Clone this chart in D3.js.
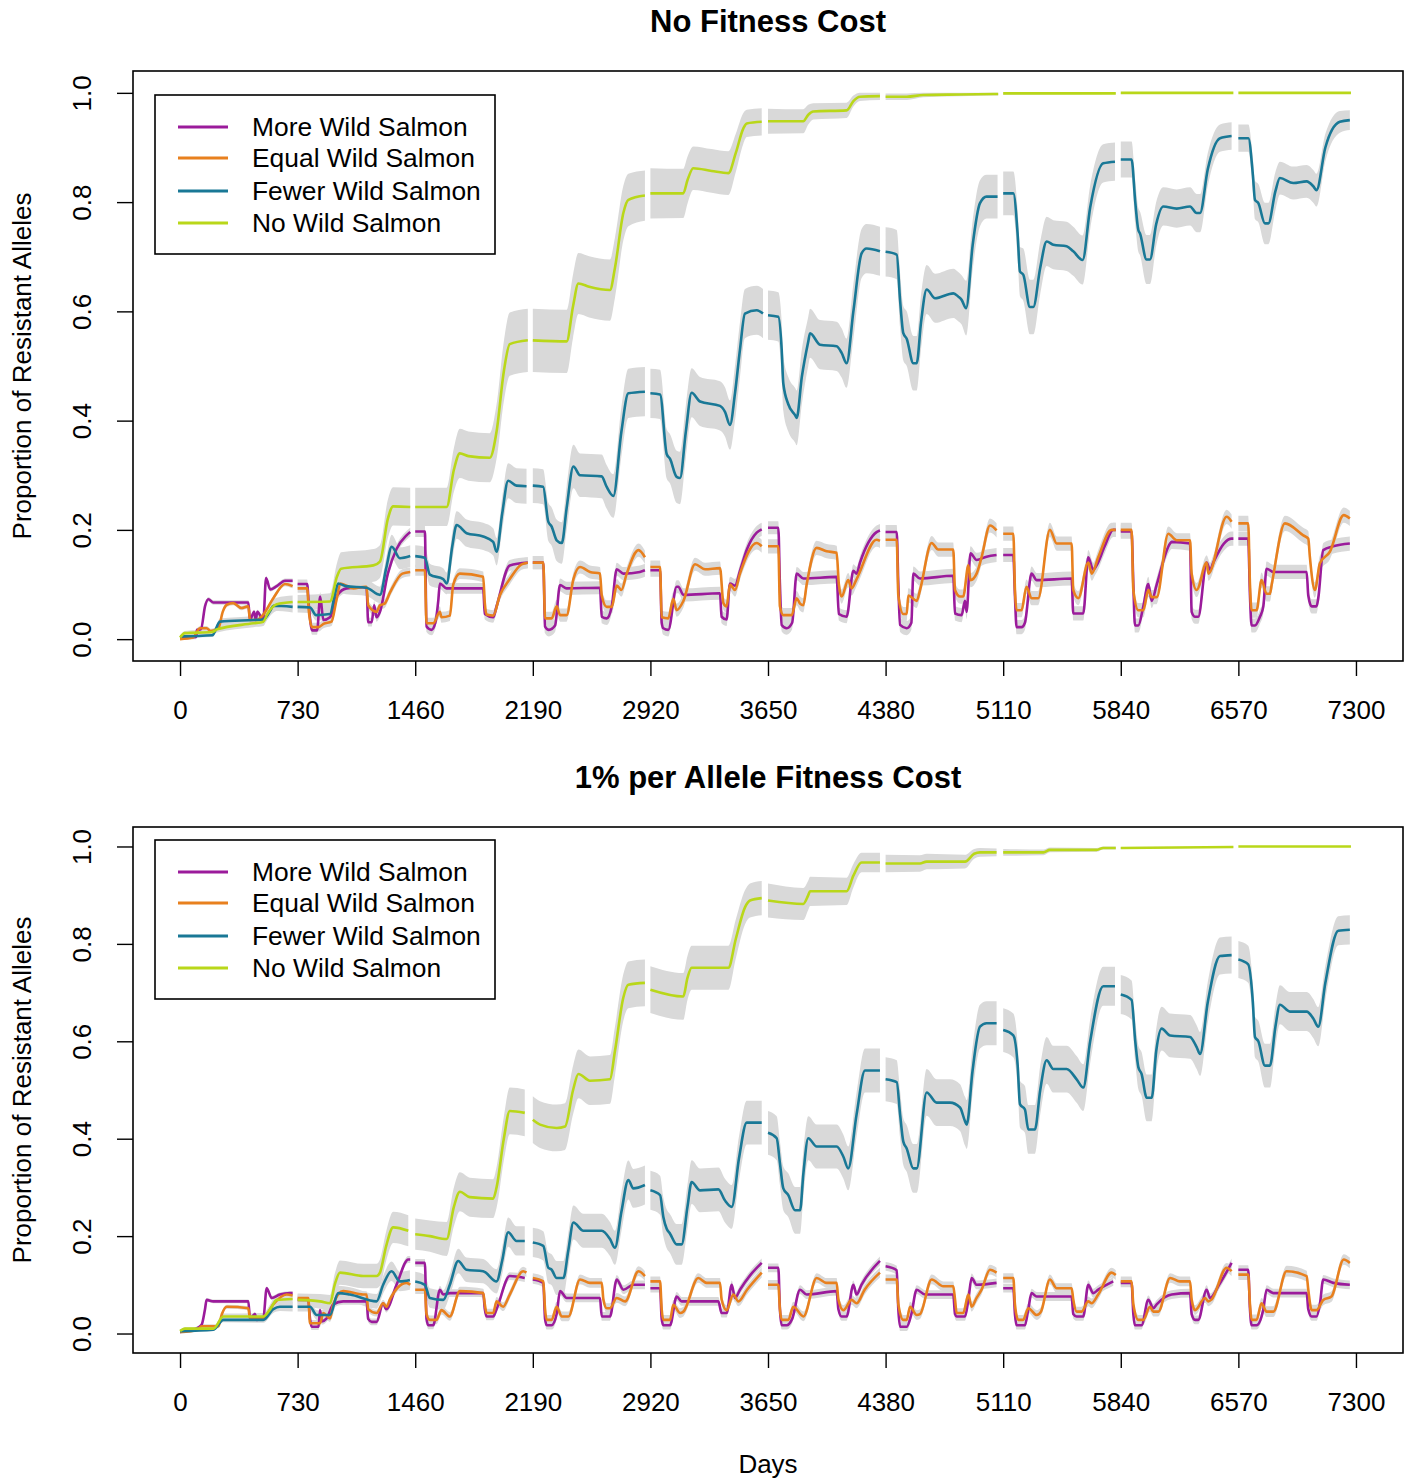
<!DOCTYPE html>
<html><head><meta charset="utf-8">
<script src="https://cdn.jsdelivr.net/npm/d3@7"></script>
<style>
body{margin:0;background:#fff}
svg{display:block}
text{font-family:"Liberation Sans",Arial,Helvetica,sans-serif;fill:#000}
</style>
</head><body>
<svg id="chart" width="1411" height="1479"></svg>
<script>
// ---------- categories, ticks, labels ----------
const seriesNames = ["More Wild Salmon","Equal Wild Salmon","Fewer Wild Salmon","No Wild Salmon"];
const seriesColors = ["#9B1B9B","#E8801E","#197896","#B9D719"];
const panelTitles = ["No Fitness Cost","1% per Allele Fitness Cost"];
const xTicks = [0,730,1460,2190,2920,3650,4380,5110,5840,6570,7300];
const yTicks = [0,0.2,0.4,0.6,0.8,1.0];
const xLabel = "Days";
const yLabel = "Proportion of Resistant Alleles";

// ---------- TOP panel: No Fitness Cost  [day, mean, ribbon half-width] ----------
const topNo = [
 [0,0.003,0.002],[30,0.011,0.004],[200,0.013,0.005],[230,0.018,0.006],[455,0.029,0.007],[517,0.032,0.008],[540,0.045,0.01],[600,0.064,0.012],[699,0.068,0.012],
 [730,0.068,0.013],[931,0.069,0.015],[975,0.115,0.025],[1000,0.129,0.03],[1200,0.135,0.03],[1241,0.142,0.03],[1290,0.22,0.035],[1323,0.243,0.035],[1429,0.242,0.035],
 [1460,0.242,0.035],[1655,0.242,0.035],[1700,0.31,0.04],[1737,0.34,0.045],[1790,0.335,0.045],[1923,0.332,0.045],[1965,0.38,0.05],[2010,0.49,0.055],[2047,0.54,0.058],[2159,0.547,0.058],
 [2190,0.547,0.058],[2400,0.545,0.058],[2440,0.61,0.058],[2473,0.651,0.056],[2540,0.645,0.056],[2669,0.639,0.056],[2700,0.68,0.055],[2752,0.78,0.05],[2783,0.804,0.048],[2886,0.812,0.046],
 [2920,0.816,0.046],[3124,0.816,0.045],[3150,0.84,0.043],[3186,0.862,0.04],[3300,0.857,0.04],[3404,0.853,0.04],[3450,0.89,0.035],[3497,0.935,0.028],[3518,0.944,0.025],[3611,0.947,0.025],
 [3650,0.948,0.023],[3869,0.948,0.022],[3900,0.96,0.018],[3931,0.966,0.015],[4138,0.968,0.014],[4180,0.985,0.01],[4221,0.993,0.008],[4345,0.994,0.007],
 [4380,0.993,0.006],[4511,0.993,0.006],[4614,0.996,0.004],[4842,0.997,0.003],[5079,0.998,0.003],
 [5110,0.999,0.002],[5809,0.999,0.001],
 [5840,1.0,0.001],[6539,1.0,0],
 [6570,1.0,0],[7269,1.0,0]
];
const topFewer = [
 [0,0.005,0.002],[200,0.007,0.003],[248,0.032,0.006],[455,0.035,0.007],[517,0.036,0.008],[560,0.052,0.008],[579,0.061,0.009],[699,0.059,0.01],
 [730,0.059,0.01],[807,0.058,0.01],[845,0.044,0.01],[931,0.046,0.01],[960,0.08,0.012],[982,0.102,0.015],[1030,0.097,0.015],[1158,0.094,0.015],[1241,0.081,0.015],[1280,0.13,0.02],[1314,0.169,0.022],[1365,0.148,0.02],[1429,0.152,0.02],
 [1460,0.152,0.02],[1520,0.149,0.02],[1551,0.118,0.02],[1634,0.11,0.02],[1655,0.102,0.02],[1690,0.17,0.025],[1717,0.209,0.025],[1779,0.194,0.025],[1882,0.188,0.025],[1944,0.178,0.025],[1965,0.16,0.025],[2000,0.23,0.03],[2037,0.29,0.032],[2089,0.281,0.032],[2151,0.28,0.032],
 [2190,0.281,0.032],[2254,0.279,0.032],[2286,0.215,0.035],[2307,0.206,0.035],[2338,0.181,0.038],[2370,0.176,0.038],[2400,0.24,0.04],[2442,0.316,0.04],[2483,0.30,0.04],[2617,0.298,0.04],[2648,0.279,0.04],[2690,0.262,0.04],[2740,0.38,0.045],[2783,0.45,0.045],[2886,0.453,0.045],
 [2920,0.45,0.045],[2980,0.448,0.045],[3021,0.339,0.045],[3042,0.33,0.045],[3083,0.297,0.048],[3104,0.295,0.048],[3140,0.38,0.048],[3176,0.451,0.045],[3228,0.435,0.045],[3352,0.427,0.045],[3383,0.416,0.045],[3414,0.392,0.045],[3445,0.45,0.05],[3476,0.53,0.05],[3507,0.596,0.045],[3580,0.602,0.045],[3619,0.596,0.045],
 [3650,0.593,0.045],[3714,0.59,0.045],[3735,0.53,0.05],[3745,0.468,0.05],[3776,0.43,0.05],[3818,0.41,0.05],[3828,0.405,0.05],[3860,0.48,0.05],[3900,0.545,0.045],[3911,0.56,0.045],[3973,0.539,0.045],[4076,0.536,0.045],[4107,0.524,0.045],[4138,0.505,0.045],[4180,0.6,0.05],[4231,0.706,0.045],[4262,0.715,0.045],[4345,0.71,0.045],
 [4380,0.709,0.045],[4449,0.704,0.045],[4470,0.62,0.05],[4490,0.56,0.05],[4511,0.55,0.05],[4552,0.505,0.05],[4573,0.505,0.05],[4600,0.58,0.05],[4635,0.64,0.045],[4687,0.624,0.045],[4801,0.633,0.045],[4831,0.627,0.045],[4852,0.621,0.045],[4880,0.606,0.05],[4920,0.72,0.045],[4966,0.798,0.042],[5007,0.81,0.04],[5075,0.81,0.04],
 [5110,0.816,0.04],[5173,0.816,0.04],[5200,0.74,0.045],[5214,0.673,0.045],[5235,0.667,0.048],[5276,0.608,0.05],[5297,0.608,0.05],[5340,0.68,0.048],[5380,0.728,0.045],[5421,0.722,0.045],[5504,0.719,0.045],[5545,0.71,0.045],[5603,0.694,0.045],[5650,0.79,0.04],[5731,0.871,0.035],[5804,0.874,0.035],
 [5840,0.878,0.033],[5907,0.878,0.033],[5930,0.8,0.04],[5949,0.749,0.04],[5959,0.743,0.04],[6000,0.695,0.045],[6021,0.695,0.045],[6060,0.76,0.04],[6104,0.792,0.035],[6187,0.788,0.035],[6270,0.792,0.035],[6311,0.78,0.035],[6332,0.78,0.035],[6380,0.86,0.03],[6456,0.917,0.025],[6528,0.921,0.025],
 [6570,0.917,0.025],[6632,0.917,0.025],[6660,0.85,0.03],[6673,0.804,0.035],[6694,0.798,0.035],[6735,0.761,0.038],[6756,0.761,0.038],[6800,0.82,0.035],[6828,0.844,0.03],[6911,0.835,0.03],[6994,0.838,0.03],[7035,0.829,0.03],[7055,0.822,0.03],[7110,0.9,0.025],[7200,0.947,0.02],[7262,0.95,0.018]
];
// [day, mean]
const topMore = [
 [0,0.002],[100,0.004],[105,0.017],[130,0.018],[155,0.06],[176,0.073],[207,0.067],[424,0.067],[434,0.035],[460,0.05],[470,0.035],[480,0.05],[517,0.035],[534,0.112],[560,0.091],[600,0.097],[652,0.107],[699,0.107],
 [730,0.101],[789,0.101],[800,0.06],[820,0.016],[851,0.016],[870,0.078],[890,0.035],[931,0.04],[975,0.08],[1034,0.093],[1137,0.095],[1158,0.094],[1168,0.031],[1190,0.031],[1205,0.062],[1220,0.04],[1241,0.05],[1290,0.12],[1344,0.165],[1406,0.19],[1429,0.196],
 [1460,0.197],[1520,0.197],[1530,0.023],[1561,0.017],[1585,0.03],[1603,0.07],[1613,0.102],[1654,0.093],[1882,0.093],[1892,0.046],[1944,0.04],[1965,0.06],[2047,0.135],[2159,0.14],
 [2190,0.14],[2255,0.14],[2266,0.023],[2290,0.017],[2328,0.025],[2359,0.099],[2400,0.093],[2607,0.094],[2618,0.041],[2649,0.038],[2680,0.06],[2711,0.128],[2752,0.12],[2855,0.123],[2886,0.126],
 [2920,0.126],[2980,0.126],[2990,0.03],[3000,0.02],[3031,0.017],[3083,0.096],[3093,0.096],[3125,0.081],[3352,0.084],[3362,0.041],[3393,0.036],[3414,0.102],[3445,0.098],[3476,0.125],[3520,0.165],[3580,0.195],[3611,0.201],
 [3650,0.204],[3714,0.204],[3724,0.1],[3735,0.026],[3766,0.02],[3800,0.03],[3828,0.12],[3870,0.111],[4076,0.114],[4090,0.046],[4138,0.041],[4180,0.125],[4200,0.12],[4221,0.14],[4324,0.196],[4345,0.199],
 [4380,0.196],[4449,0.196],[4459,0.1],[4470,0.026],[4511,0.02],[4540,0.03],[4552,0.12],[4594,0.111],[4800,0.116],[4811,0.047],[4852,0.044],[4873,0.07],[4883,0.05],[4907,0.157],[4945,0.145],[5007,0.151],[5069,0.154],
 [5110,0.154],[5173,0.154],[5183,0.08],[5193,0.022],[5224,0.022],[5245,0.03],[5286,0.12],[5318,0.108],[5535,0.111],[5545,0.047],[5607,0.047],[5638,0.15],[5669,0.127],[5690,0.135],[5740,0.17],[5793,0.2],[5809,0.2],
 [5840,0.197],[5907,0.197],[5918,0.1],[5928,0.025],[5949,0.025],[5980,0.06],[6011,0.101],[6032,0.07],[6063,0.1],[6146,0.175],[6156,0.178],[6270,0.175],[6280,0.05],[6301,0.041],[6321,0.041],[6373,0.14],[6394,0.127],[6414,0.14],[6480,0.175],[6528,0.184],[6539,0.184],
 [6570,0.184],[6631,0.184],[6642,0.08],[6652,0.025],[6673,0.025],[6704,0.041],[6725,0.06],[6745,0.129],[6787,0.123],[6994,0.123],[7004,0.08],[7025,0.06],[7055,0.06],[7066,0.075],[7097,0.163],[7159,0.17],[7262,0.175]
];
const topEqual = [
 [0,0.0],[80,0.003],[124,0.02],[165,0.02],[190,0.015],[238,0.02],[265,0.05],[290,0.063],[330,0.066],[380,0.057],[424,0.06],[434,0.035],[475,0.035],[517,0.045],[579,0.075],[652,0.101],[699,0.097],
 [730,0.093],[789,0.093],[800,0.05],[820,0.022],[860,0.022],[890,0.028],[940,0.032],[970,0.07],[996,0.102],[1075,0.093],[1150,0.096],[1158,0.096],[1168,0.062],[1220,0.05],[1241,0.062],[1270,0.065],[1303,0.085],[1380,0.12],[1429,0.123],
 [1460,0.126],[1520,0.126],[1530,0.029],[1572,0.029],[1613,0.05],[1623,0.04],[1675,0.043],[1696,0.1],[1737,0.12],[1882,0.114],[1892,0.066],[1903,0.045],[1944,0.043],[1985,0.08],[2047,0.11],[2120,0.137],[2159,0.14],
 [2190,0.14],[2255,0.14],[2266,0.038],[2307,0.038],[2338,0.06],[2359,0.044],[2400,0.044],[2442,0.11],[2483,0.132],[2545,0.123],[2607,0.12],[2618,0.08],[2649,0.059],[2680,0.059],[2711,0.098],[2740,0.09],[2773,0.12],[2846,0.163],[2886,0.15],
 [2920,0.132],[2980,0.132],[2990,0.04],[3031,0.038],[3062,0.074],[3083,0.053],[3125,0.07],[3197,0.137],[3259,0.128],[3352,0.13],[3373,0.066],[3393,0.06],[3414,0.1],[3445,0.09],[3476,0.12],[3580,0.176],[3611,0.17],
 [3650,0.17],[3714,0.17],[3724,0.06],[3745,0.044],[3797,0.044],[3828,0.075],[3849,0.065],[3869,0.062],[3890,0.1],[3952,0.167],[4014,0.161],[4076,0.158],[4090,0.1],[4107,0.078],[4148,0.108],[4169,0.093],[4200,0.11],[4324,0.182],[4345,0.18],
 [4380,0.182],[4449,0.182],[4459,0.08],[4490,0.046],[4511,0.046],[4521,0.08],[4573,0.07],[4594,0.09],[4666,0.176],[4707,0.164],[4800,0.164],[4811,0.09],[4842,0.078],[4862,0.078],[4894,0.135],[4907,0.108],[4945,0.12],[4976,0.15],[5028,0.208],[5069,0.199],
 [5110,0.193],[5173,0.193],[5183,0.09],[5193,0.053],[5224,0.053],[5255,0.096],[5286,0.075],[5327,0.075],[5400,0.2],[5442,0.175],[5535,0.175],[5545,0.09],[5576,0.075],[5638,0.14],[5660,0.12],[5700,0.15],[5783,0.2],[5809,0.2],
 [5840,0.2],[5907,0.2],[5918,0.09],[5949,0.053],[5980,0.053],[6011,0.09],[6032,0.077],[6063,0.077],[6135,0.193],[6187,0.181],[6270,0.181],[6280,0.12],[6311,0.09],[6373,0.14],[6384,0.12],[6497,0.224],[6528,0.215],
 [6570,0.212],[6631,0.212],[6642,0.1],[6652,0.053],[6683,0.053],[6714,0.108],[6745,0.083],[6766,0.083],[6777,0.1],[6859,0.212],[6973,0.19],[7004,0.184],[7014,0.15],[7045,0.09],[7076,0.139],[7138,0.16],[7224,0.227],[7262,0.221]
];
const topMoreBand  = [0.004,0.008,0.01,0.012,0.012,0.012,0.013,0.013,0.013,0.013];
const topEqualBand = [0.004,0.008,0.01,0.012,0.012,0.013,0.013,0.013,0.013,0.014];

// ---------- BOTTOM panel: 1% per Allele Fitness Cost ----------
const botNo = [
 [0,0.005,0.002],[30,0.01,0.003],[207,0.01,0.004],[269,0.035,0.006],[517,0.035,0.007],[560,0.05,0.01],[600,0.069,0.012],[699,0.071,0.012],
 [730,0.069,0.013],[869,0.066,0.015],[931,0.062,0.017],[960,0.1,0.022],[993,0.125,0.025],[1137,0.118,0.025],[1220,0.118,0.025],[1241,0.125,0.027],[1280,0.18,0.03],[1323,0.218,0.032],[1417,0.211,0.032],
 [1460,0.204,0.032],[1551,0.2,0.032],[1655,0.194,0.035],[1700,0.26,0.04],[1737,0.291,0.04],[1799,0.28,0.04],[1944,0.277,0.04],[1965,0.3,0.042],[2010,0.4,0.045],[2047,0.457,0.048],[2140,0.453,0.048],
 [2190,0.439,0.048],[2235,0.429,0.048],[2338,0.422,0.048],[2390,0.425,0.048],[2440,0.5,0.05],[2473,0.533,0.05],[2545,0.519,0.05],[2669,0.522,0.05],[2700,0.58,0.05],[2752,0.69,0.048],[2783,0.716,0.048],[2886,0.72,0.048],
 [2920,0.706,0.048],[3124,0.692,0.048],[3150,0.73,0.045],[3176,0.751,0.045],[3404,0.751,0.045],[3450,0.81,0.04],[3507,0.875,0.035],[3538,0.889,0.035],[3611,0.894,0.035],
 [3650,0.889,0.035],[3869,0.882,0.033],[3900,0.9,0.03],[3911,0.908,0.03],[4138,0.908,0.028],[4180,0.94,0.024],[4231,0.967,0.02],[4345,0.967,0.02],
 [4380,0.965,0.018],[4593,0.965,0.017],[4635,0.969,0.016],[4873,0.969,0.014],[4930,0.985,0.01],[4966,0.988,0.009],[5069,0.988,0.008],
 [5110,0.988,0.007],[5360,0.988,0.006],[5400,0.993,0.005],[5690,0.993,0.004],[5731,0.997,0.003],[5809,0.997,0.003],
 [5840,0.997,0.002],[6539,0.999,0.001],
 [6570,1.0,0],[7269,1.0,0]
];
const botFewer = [
 [0,0.005,0.002],[207,0.008,0.003],[269,0.028,0.005],[517,0.028,0.006],[579,0.05,0.008],[620,0.055,0.009],[699,0.055,0.01],
 [730,0.055,0.01],[807,0.055,0.01],[848,0.038,0.01],[931,0.038,0.012],[982,0.083,0.015],[1055,0.08,0.015],[1220,0.066,0.015],[1261,0.1,0.018],[1313,0.128,0.02],[1365,0.107,0.02],[1427,0.11,0.02],
 [1460,0.107,0.02],[1520,0.1,0.02],[1551,0.073,0.02],[1634,0.069,0.02],[1675,0.1,0.022],[1727,0.149,0.025],[1778,0.131,0.025],[1882,0.128,0.025],[1965,0.107,0.025],[2000,0.15,0.028],[2037,0.208,0.03],[2089,0.19,0.03],[2140,0.19,0.03],
 [2190,0.187,0.03],[2255,0.18,0.03],[2286,0.135,0.032],[2307,0.131,0.032],[2338,0.114,0.035],[2380,0.114,0.035],[2410,0.17,0.035],[2442,0.228,0.035],[2504,0.211,0.035],[2618,0.211,0.035],[2669,0.194,0.035],[2700,0.176,0.035],[2740,0.25,0.04],[2783,0.315,0.04],[2814,0.298,0.04],[2886,0.305,0.04],
 [2920,0.294,0.04],[2980,0.284,0.04],[3000,0.24,0.04],[3021,0.215,0.04],[3042,0.205,0.04],[3083,0.183,0.042],[3114,0.183,0.042],[3150,0.26,0.045],[3176,0.311,0.045],[3228,0.294,0.045],[3342,0.296,0.045],[3383,0.273,0.045],[3425,0.26,0.045],[3470,0.36,0.045],[3518,0.433,0.045],[3611,0.433,0.045],
 [3650,0.412,0.045],[3704,0.401,0.045],[3724,0.35,0.045],[3745,0.298,0.045],[3776,0.284,0.045],[3818,0.253,0.048],[3849,0.253,0.048],[3870,0.33,0.048],[3900,0.401,0.045],[3952,0.384,0.045],[4076,0.384,0.045],[4118,0.363,0.045],[4148,0.339,0.045],[4200,0.45,0.045],[4252,0.54,0.045],[4345,0.54,0.045],
 [4380,0.522,0.045],[4449,0.516,0.045],[4470,0.45,0.048],[4490,0.394,0.048],[4511,0.38,0.048],[4552,0.339,0.05],[4573,0.339,0.05],[4635,0.495,0.048],[4697,0.474,0.048],[4780,0.474,0.048],[4842,0.464,0.048],[4873,0.436,0.05],[4884,0.429,0.05],[4920,0.54,0.048],[4966,0.63,0.045],[5007,0.637,0.045],[5069,0.637,0.045],
 [5110,0.623,0.045],[5173,0.612,0.045],[5200,0.55,0.045],[5214,0.471,0.048],[5245,0.46,0.048],[5266,0.419,0.05],[5307,0.419,0.05],[5340,0.5,0.05],[5380,0.561,0.048],[5421,0.543,0.048],[5504,0.543,0.048],[5566,0.522,0.048],[5607,0.505,0.048],[5650,0.6,0.045],[5731,0.713,0.04],[5804,0.713,0.04],
 [5840,0.696,0.04],[5907,0.685,0.04],[5930,0.6,0.042],[5949,0.547,0.045],[5969,0.533,0.045],[6001,0.484,0.048],[6032,0.484,0.048],[6060,0.58,0.045],[6094,0.626,0.045],[6146,0.612,0.045],[6270,0.609,0.045],[6311,0.588,0.045],[6332,0.574,0.045],[6380,0.68,0.042],[6456,0.775,0.038],[6528,0.777,0.038],
 [6570,0.768,0.038],[6631,0.758,0.038],[6660,0.68,0.04],[6673,0.609,0.042],[6694,0.6,0.042],[6735,0.55,0.045],[6766,0.55,0.045],[6800,0.63,0.042],[6828,0.675,0.04],[6890,0.661,0.04],[6994,0.661,0.04],[7035,0.647,0.04],[7066,0.63,0.04],[7110,0.72,0.035],[7190,0.827,0.03],[7262,0.829,0.03]
];
const botMore = [
 [0,0.003],[100,0.01],[134,0.018],[155,0.05],[165,0.069],[207,0.066],[424,0.066],[434,0.031],[465,0.04],[476,0.028],[517,0.031],[538,0.093],[569,0.073],[620,0.08],[682,0.083],[699,0.083],
 [730,0.069],[796,0.069],[807,0.03],[817,0.014],[860,0.014],[869,0.048],[880,0.025],[910,0.031],[951,0.06],[1013,0.066],[1158,0.066],[1168,0.03],[1190,0.024],[1220,0.024],[1261,0.062],[1280,0.05],[1344,0.1],[1417,0.152],[1429,0.152],
 [1460,0.145],[1520,0.145],[1530,0.03],[1541,0.017],[1572,0.017],[1613,0.09],[1634,0.08],[1675,0.083],[1882,0.083],[1892,0.05],[1903,0.035],[1944,0.035],[1965,0.05],[2047,0.118],[2140,0.114],
 [2190,0.111],[2255,0.104],[2266,0.03],[2276,0.017],[2307,0.017],[2338,0.04],[2359,0.087],[2400,0.073],[2607,0.073],[2618,0.035],[2669,0.035],[2711,0.111],[2752,0.09],[2814,0.1],[2886,0.1],
 [2920,0.093],[2980,0.093],[2990,0.03],[3000,0.017],[3042,0.017],[3083,0.076],[3114,0.066],[3342,0.066],[3362,0.042],[3393,0.042],[3425,0.1],[3445,0.073],[3476,0.09],[3540,0.12],[3611,0.145],
 [3650,0.135],[3714,0.135],[3724,0.05],[3735,0.017],[3766,0.017],[3800,0.03],[3849,0.09],[3890,0.08],[4076,0.087],[4087,0.05],[4107,0.035],[4138,0.035],[4180,0.1],[4200,0.08],[4230,0.1],[4345,0.149],
 [4380,0.138],[4449,0.13],[4459,0.05],[4470,0.014],[4511,0.014],[4540,0.04],[4573,0.09],[4625,0.08],[4800,0.08],[4811,0.04],[4821,0.035],[4873,0.035],[4894,0.07],[4914,0.114],[4945,0.1],[5069,0.104],
 [5110,0.093],[5173,0.093],[5183,0.04],[5193,0.017],[5245,0.017],[5266,0.05],[5286,0.083],[5318,0.076],[5535,0.076],[5545,0.04],[5566,0.035],[5607,0.035],[5638,0.1],[5669,0.083],[5700,0.09],[5793,0.107],
 [5840,0.104],[5907,0.104],[5918,0.04],[5928,0.017],[5969,0.017],[6011,0.069],[6042,0.052],[6063,0.06],[6156,0.08],[6270,0.083],[6280,0.04],[6301,0.028],[6321,0.028],[6373,0.09],[6394,0.073],[6450,0.1],[6528,0.145],
 [6570,0.131],[6631,0.131],[6642,0.05],[6652,0.017],[6683,0.017],[6725,0.05],[6745,0.09],[6787,0.083],[6994,0.083],[7004,0.05],[7025,0.035],[7055,0.035],[7076,0.06],[7097,0.111],[7159,0.104],[7262,0.1]
];
const botEqual = [
 [0,0.003],[110,0.008],[134,0.015],[165,0.015],[238,0.015],[260,0.04],[290,0.055],[424,0.052],[434,0.031],[517,0.031],[579,0.06],[662,0.08],[699,0.078],
 [730,0.073],[796,0.073],[807,0.021],[869,0.021],[889,0.042],[931,0.031],[951,0.06],[1013,0.087],[1137,0.08],[1158,0.08],[1168,0.05],[1220,0.042],[1261,0.062],[1282,0.055],[1303,0.07],[1406,0.104],[1429,0.1],
 [1460,0.09],[1520,0.09],[1530,0.04],[1551,0.028],[1592,0.028],[1623,0.048],[1675,0.035],[1737,0.087],[1882,0.083],[1892,0.06],[1903,0.042],[1944,0.042],[1965,0.066],[2006,0.055],[2047,0.08],[2130,0.128],[2150,0.125],
 [2190,0.114],[2255,0.107],[2266,0.05],[2276,0.028],[2307,0.028],[2338,0.055],[2370,0.035],[2411,0.035],[2483,0.111],[2545,0.104],[2618,0.104],[2628,0.07],[2649,0.052],[2669,0.052],[2711,0.073],[2763,0.066],[2846,0.128],[2886,0.118],
 [2920,0.107],[2980,0.107],[2990,0.05],[3000,0.028],[3042,0.028],[3062,0.059],[3104,0.042],[3125,0.045],[3217,0.114],[3269,0.104],[3352,0.104],[3362,0.07],[3393,0.048],[3435,0.08],[3466,0.066],[3520,0.09],[3611,0.125],
 [3650,0.1],[3714,0.1],[3724,0.05],[3735,0.028],[3776,0.028],[3807,0.055],[3870,0.035],[3952,0.114],[4014,0.104],[4076,0.104],[4087,0.07],[4118,0.048],[4169,0.069],[4200,0.062],[4250,0.09],[4345,0.125],
 [4380,0.111],[4449,0.111],[4459,0.06],[4490,0.028],[4511,0.028],[4532,0.055],[4573,0.038],[4594,0.04],[4666,0.111],[4738,0.097],[4800,0.097],[4811,0.07],[4821,0.042],[4862,0.042],[4894,0.08],[4914,0.055],[4945,0.073],[4976,0.09],[5028,0.131],[5069,0.125],
 [5110,0.114],[5173,0.114],[5183,0.06],[5203,0.028],[5234,0.028],[5266,0.052],[5318,0.038],[5345,0.045],[5400,0.111],[5442,0.093],[5535,0.093],[5545,0.07],[5566,0.045],[5597,0.045],[5638,0.066],[5659,0.062],[5700,0.08],[5783,0.125],[5809,0.12],
 [5840,0.107],[5907,0.107],[5918,0.06],[5949,0.028],[5980,0.028],[6021,0.055],[6042,0.045],[6073,0.045],[6146,0.114],[6207,0.107],[6270,0.107],[6280,0.07],[6301,0.048],[6363,0.073],[6384,0.066],[6404,0.07],[6497,0.135],[6528,0.128],
 [6570,0.121],[6631,0.121],[6642,0.06],[6652,0.028],[6683,0.028],[6714,0.062],[6745,0.045],[6787,0.045],[6869,0.128],[6994,0.118],[7004,0.09],[7025,0.048],[7055,0.048],[7097,0.069],[7148,0.076],[7224,0.152],[7262,0.145]
];
const botMoreBand  = [0.004,0.007,0.008,0.009,0.009,0.009,0.009,0.009,0.009,0.009];
const botEqualBand = [0.004,0.007,0.009,0.01,0.01,0.01,0.01,0.01,0.01,0.011];

// ---------- build panels ----------
const panels = [
  {title: panelTitles[0], top: 71, bottom: 661, series: [topMore, topEqual, topFewer, topNo], bands: [topMoreBand, topEqualBand, null, null], legendTop: 95},
  {title: panelTitles[1], top: 827, bottom: 1353, series: [botMore, botEqual, botFewer, botNo], bands: [botMoreBand, botEqualBand, null, null], legendTop: 840}
];

const svg = d3.select("#chart");
const plotLeft = 133, plotRight = 1403;
const pad = 0.04;
const x = d3.scaleLinear().domain([0 - 7300*pad, 7300*(1+pad)]).range([plotLeft, plotRight]);
const segOf = d => Math.min(9, Math.floor(d[0] / 730));
const FONT = '"Liberation Sans",Arial,Helvetica,sans-serif';

panels.forEach((p, pi) => {
  const y = d3.scaleLinear().domain([-pad, 1 + pad]).range([p.bottom, p.top]);
  const g = svg.append("g");

  // ribbons first
  p.series.forEach((data, si) => {
    const band = p.bands[si];
    const hw = d => d.length > 2 ? d[2] : band[segOf(d)];
    const area = d3.area()
      .curve(d3.curveMonotoneX)
      .x(d => x(d[0]))
      .y0(d => y(Math.max(0, d[1] - hw(d))))
      .y1(d => y(Math.min(1, d[1] + hw(d))));
    d3.groups(data, segOf).forEach(([k, pts]) => {
      g.append("path").attr("d", area(pts)).attr("fill", "#D9D9D9").attr("stroke", "none");
    });
  });
  // lines
  p.series.forEach((data, si) => {
    const line = d3.line().curve(d3.curveMonotoneX).x(d => x(d[0])).y(d => y(d[1]));
    d3.groups(data, segOf).forEach(([k, pts]) => {
      g.append("path").attr("d", line(pts)).attr("fill", "none")
        .attr("stroke", seriesColors[si]).attr("stroke-width", 2.6)
        .attr("stroke-linejoin", "round");
    });
  });

  // box
  g.append("rect").attr("x", plotLeft).attr("y", p.top)
    .attr("width", plotRight - plotLeft).attr("height", p.bottom - p.top)
    .attr("fill", "none").attr("stroke", "#000").attr("stroke-width", 1.6);

  // x axis
  const xa = g.append("g").attr("transform", `translate(0,${p.bottom})`)
    .call(d3.axisBottom(x).tickValues(xTicks).tickFormat(d3.format("d")).tickSize(15).tickSizeOuter(0));
  xa.select(".domain").remove();
  xa.selectAll(".tick line").attr("stroke", "#000").attr("stroke-width", 1.4);
  xa.selectAll(".tick text").attr("font-size", 26).attr("font-family", FONT).attr("fill", "#000").attr("dy", 0).attr("y", 58);

  // y axis
  const ya = g.append("g").attr("transform", `translate(${plotLeft},0)`)
    .call(d3.axisLeft(y).tickValues(yTicks).tickFormat(d3.format(".1f")).tickSize(16).tickSizeOuter(0));
  ya.select(".domain").remove();
  ya.selectAll(".tick line").attr("stroke", "#000").attr("stroke-width", 1.4);
  ya.selectAll(".tick text").attr("font-size", 26).attr("font-family", FONT).attr("fill", "#000")
    .attr("transform", "rotate(-90)").attr("x", 0).attr("y", -42).attr("dy", 0).attr("text-anchor", "middle");

  // y label
  g.append("text").attr("transform", `translate(31,${(p.top + p.bottom) / 2}) rotate(-90)`)
    .attr("text-anchor", "middle").attr("font-size", 26).text(yLabel);

  // title
  g.append("text").attr("x", (plotLeft + plotRight) / 2).attr("y", p.top - 39)
    .attr("text-anchor", "middle").attr("font-size", 31).attr("font-weight", "bold").text(p.title);

  // legend
  const lg = g.append("g");
  lg.append("rect").attr("x", 155).attr("y", p.legendTop).attr("width", 340).attr("height", 159)
    .attr("fill", "#fff").attr("stroke", "#000").attr("stroke-width", 1.6);
  const rowY = [32, 63, 96, 128];
  seriesNames.forEach((name, i) => {
    const ry = p.legendTop + rowY[i];
    lg.append("line").attr("x1", 178).attr("x2", 228).attr("y1", ry).attr("y2", ry)
      .attr("stroke", seriesColors[i]).attr("stroke-width", 3);
    lg.append("text").attr("x", 252).attr("y", ry + 9).attr("font-size", 26.4).text(name);
  });
});

// x label
svg.append("text").attr("x", (plotLeft + plotRight) / 2).attr("y", 1473)
  .attr("text-anchor", "middle").attr("font-size", 26).text(xLabel);
</script>
</body></html>
